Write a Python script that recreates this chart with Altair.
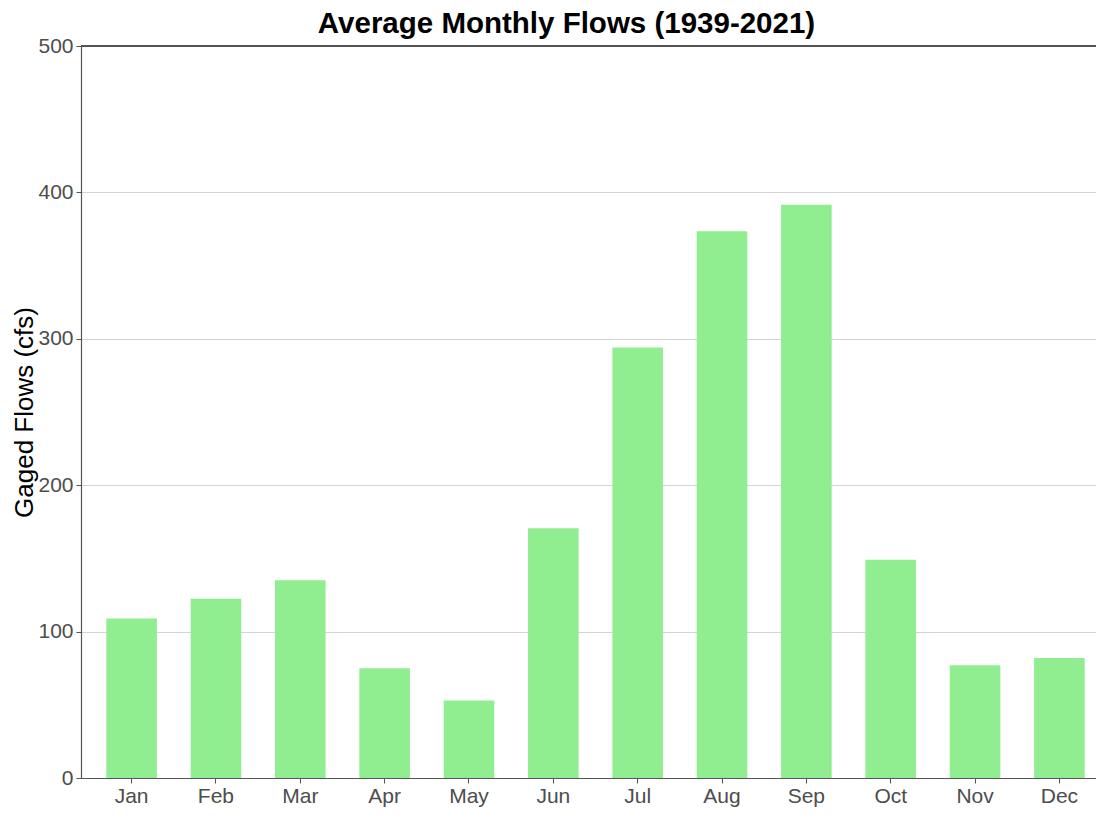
import altair as alt
import pandas as pd

months = ["Jan", "Feb", "Mar", "Apr", "May", "Jun", "Jul", "Aug", "Sep", "Oct", "Nov", "Dec"]
flows = [109, 122.5, 135, 75, 53, 170.6, 294, 373.5, 391.5, 149, 77, 82]

df = pd.DataFrame({"month": months, "flow": flows})

base = alt.Chart(df)

bars = base.mark_bar(color="#90EE90").encode(
    x=alt.X("month:N", sort=months, title=None,
            scale=alt.Scale(paddingInner=0.4, paddingOuter=0.3),
            axis=alt.Axis(labelAngle=0, labelFontSize=21, labelColor="#4d4d4d",
                          labelPadding=2, tickSize=5, tickColor="#555555",
                          domainColor="#555555", domainWidth=1.2, grid=False,
                          labelFont="Liberation Sans")),
    y=alt.Y("flow:Q", title="Gaged Flows (cfs)",
            scale=alt.Scale(domain=[0, 500], nice=False),
            axis=alt.Axis(values=[0, 100, 200, 300, 400, 500], labelFontSize=21,
                          labelColor="#4d4d4d", labelPadding=3, tickSize=5,
                          tickColor="#555555", domainColor="#555555", domainWidth=1.2,
                          grid=True, gridColor="#d4d4d4", gridWidth=1,
                          titleFontSize=26, titleFontWeight="normal", titleColor="#000000",
                          titleFont="Liberation Sans", labelFont="Liberation Sans",
                          titlePadding=0)),
)

top_line = base.mark_rule(color="#555555", strokeWidth=1.2).encode(y=alt.datum(500))

chart = alt.layer(bars, top_line).properties(
    width=1029,
    height=732,
    title=alt.Title("Average Monthly Flows (1939-2021)", fontSize=29.5, fontWeight="bold",
                    font="Liberation Sans", color="#000000", anchor="middle",
                    dx=-29, dy=5, offset=1),
    autosize=alt.AutoSizeParams(type="none"),
    padding={"left": 73, "top": 38, "right": -14, "bottom": 45},
).configure_view(
    stroke=None
)

chart.save("out.html", embed_options={"renderer": "svg", "actions": False})
